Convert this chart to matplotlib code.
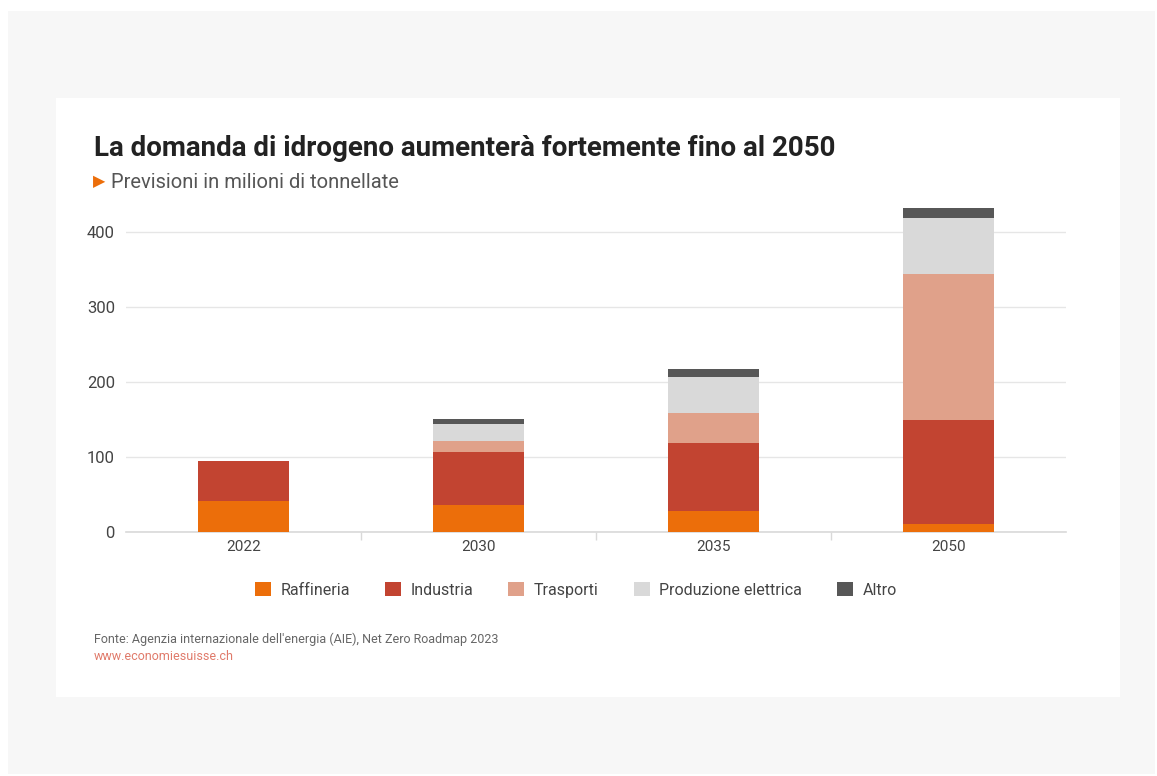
import matplotlib
matplotlib.use("Agg")
import matplotlib.pyplot as plt
from matplotlib.patches import Rectangle
import numpy as np

years = ["2022", "2030", "2035", "2050"]
series_names = ["Raffineria", "Industria", "Trasporti", "Produzione elettrica", "Altro"]
raffineria = [41, 36, 28, 10]
industria = [54, 70, 90, 139]
trasporti = [0, 15, 40, 195]
produzione = [0, 23, 49, 74]
altro = [0, 7, 10, 14]
colors = ["#EC6E0A", "#C24431", "#E0A18A", "#D9D9D9", "#575757"]
yticks = [0, 100, 200, 300, 400]

title = "La domanda di idrogeno aumenterà fortemente fino al 2050"
subtitle = "Previsioni in milioni di tonnellate"
source = "Fonte: Agenzia internazionale dell'energia (AIE), Net Zero Roadmap 2023"
url = "www.economiesuisse.ch"

plt.rcParams['font.family'] = ['Roboto', 'DejaVu Sans']

W, H = 1157, 776
fig = plt.figure(figsize=(W / 100, H / 100), dpi=100)
fig.patch.set_facecolor("white")

# outer grey frame and white panel
fig.patches.append(Rectangle((8 / W, 1 - 774 / H), (1155 - 8) / W, (774 - 11) / H,
                             transform=fig.transFigure, facecolor="#F7F7F7", edgecolor="none", zorder=-20))
fig.patches.append(Rectangle((56 / W, 1 - 697 / H), (1120 - 56) / W, (697 - 98) / H,
                             transform=fig.transFigure, facecolor="white", edgecolor="none", zorder=-10))

left, right, bottom, top = 126, 1066, 532, 200
ax = fig.add_axes([left / W, 1 - bottom / H, (right - left) / W, (bottom - top) / H])
ax.set_facecolor("none")
ax.set_zorder(5)

x = np.arange(len(years))
data = [raffineria, industria, trasporti, produzione, altro]
base = np.zeros(len(years))
for vals, c, name in zip(data, colors, series_names):
    ax.bar(x, vals, bottom=base, width=0.383, color=c, label=name, zorder=3)
    base += np.array(vals)

ax.set_xlim(-0.5, 3.5)
ax.set_ylim(0, (bottom - top) / 0.751)
ax.set_yticks(yticks)
ax.set_yticklabels([str(v) for v in yticks])
ax.grid(axis="y", color="#E6E6E6", linewidth=1, zorder=0)
ax.set_axisbelow(True)
for s in ["top", "right", "left"]:
    ax.spines[s].set_visible(False)
ax.spines["bottom"].set_color("#D9D9D9")
ax.spines["bottom"].set_linewidth(1.2)
ax.tick_params(axis="y", length=0, labelsize=12, labelcolor="#444444", pad=8)
ax.set_xticks(x)
ax.set_xticklabels(years)
ax.tick_params(axis="x", length=0, labelsize=11, labelcolor="#444444", pad=6)
ax.set_xticks([0.5, 1.5, 2.5], minor=True)
ax.tick_params(axis="x", which="minor", length=6, color="#D9D9D9", width=1)

# titles
fig.text(94 / W, 1 - 149 / H, title, fontsize=20, fontweight="bold", color="#222222", va="center", ha="left")
fig.text(93 / W, 1 - 182 / H, "\u25B6", fontsize=11.5, color="#EC6E0A", va="center", ha="left",
         family=['DejaVu Sans'])
fig.text(111 / W, 1 - 182 / H, subtitle, fontsize=14.5, color="#555555", va="center", ha="left")

# legend
handles, labels = ax.get_legend_handles_labels()
fig.legend(handles, labels, loc="center", bbox_to_anchor=(576 / W, 1 - 590 / H), ncol=5, frameon=False,
           fontsize=11.5, handlelength=1.0, handleheight=1.0, columnspacing=2.2, handletextpad=0.6,
           labelcolor="#444444")

fig.text(94 / W, 1 - 639 / H, source, fontsize=9, color="#666666", va="center", ha="left")
fig.text(94 / W, 1 - 656 / H, url, fontsize=9, color="#E07A6A", va="center", ha="left")

fig.savefig("out.png", dpi=100, facecolor=fig.get_facecolor())
